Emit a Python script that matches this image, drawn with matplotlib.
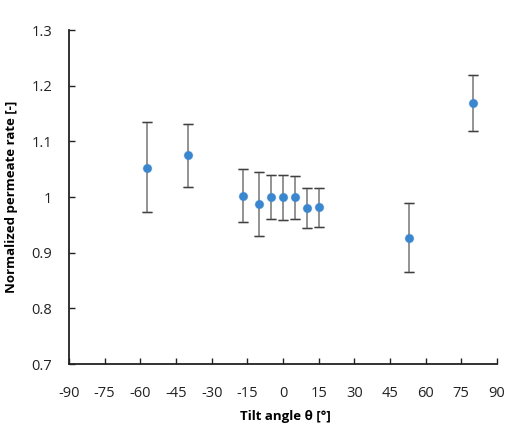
import matplotlib
matplotlib.use("Agg")
import matplotlib.pyplot as plt

angles = [-57, -40, -17, -10, -5, 0, 5, 10, 15, 53, 80]
rate = [1.053, 1.075, 1.002, 0.987, 1.000, 1.000, 1.000, 0.981, 0.982, 0.927, 1.169]
err_low = [0.080, 0.057, 0.047, 0.057, 0.039, 0.042, 0.039, 0.036, 0.035, 0.062, 0.050]
err_high = [0.081, 0.057, 0.049, 0.058, 0.039, 0.040, 0.037, 0.035, 0.035, 0.062, 0.051]
xticks = list(range(-90, 91, 15))
yticks = [0.7, 0.8, 0.9, 1.0, 1.1, 1.2, 1.3]
ytick_labels = ["0.7", "0.8", "0.9", "1", "1.1", "1.2", "1.3"]

plt.rcParams['font.family'] = ['Open Sans', 'DejaVu Sans']

fig = plt.figure(figsize=(5.15, 4.26), dpi=100)
ax = fig.add_axes([0.134, 0.1455, 0.831, 0.784])

ax.errorbar(angles, rate, yerr=[err_low, err_high], fmt='none',
            ecolor='#8a8a8a', elinewidth=1.3, capsize=3.6, capthick=1.0, zorder=2)
ax.errorbar(angles, rate, yerr=[err_low, err_high], fmt='none',
            ecolor='#404040', elinewidth=0, capsize=3.6, capthick=1.0, zorder=2)
ax.plot(angles, rate, 'o', color='#3b87d0', markersize=7.0, markeredgewidth=0,
        zorder=3, alpha=0.25)
ax.plot(angles, rate, 'o', color='#3a86cf', markersize=6.2, markeredgewidth=0,
        zorder=4)

ax.set_xlim(-90, 90)
ax.set_ylim(0.7, 1.3)
ax.set_xticks(xticks)
ax.set_xticklabels([str(t) for t in xticks])
ax.set_yticks(yticks)
ax.set_yticklabels(ytick_labels)

for s in ['top', 'right']:
    ax.spines[s].set_visible(False)
for s in ['left', 'bottom']:
    ax.spines[s].set_linewidth(1.3)
    ax.spines[s].set_color('#222222')

ax.tick_params(axis='x', direction='in', length=4, width=1, pad=16,
               labelsize=10.5, colors='#222222')
ax.tick_params(axis='y', direction='in', length=4, width=1, pad=12,
               labelsize=10.5, colors='#222222')

fig.text(0.022, 0.5375, 'Normalized permeate rate [-]', rotation=90,
         ha='center', va='center', fontsize=9.5, fontweight='bold')
fig.text(0.555, 0.006, 'Tilt angle θ [°]', ha='center', va='bottom',
         fontsize=9.5, fontweight='bold')

fig.savefig('out.png', dpi=100)
